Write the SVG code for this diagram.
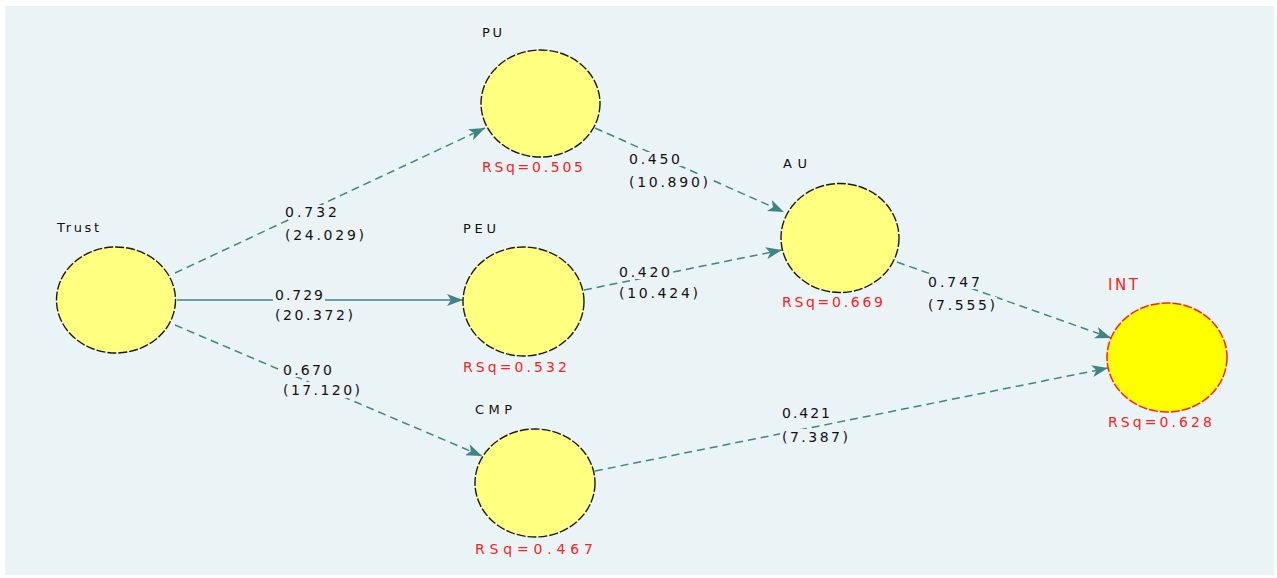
<svg xmlns="http://www.w3.org/2000/svg" width="1277" height="578" viewBox="0 0 1277 578">
  <style>
    .lv { fill: #FFFF80; stroke: #1a1a1a; stroke-width: 1.4; stroke-dasharray: 9 2; }
    .lv-end { fill: #FFFF00; stroke: #FF2020; stroke-width: 1.5; stroke-dasharray: 9 2; }
    .name { font-family: "DejaVu Sans", "Liberation Sans", sans-serif; font-size: 13px; fill: #111; }
    .name-end { font-family: "DejaVu Sans", "Liberation Sans", sans-serif; font-size: 15px; fill: #FF2020; }
    .rsq { font-family: "DejaVu Sans", "Liberation Sans", sans-serif; font-size: 14px; fill: #FF2020; }
    .coef { font-family: "DejaVu Sans", "Liberation Sans", sans-serif; font-size: 14px; fill: #111; }
    .path { stroke: #3F8585; stroke-width: 1.5; fill: none; marker-end: url(#head); }
    .dash { stroke-dasharray: 8 5; }
    .pad { fill: #EAF3F5; }
  </style>
  <defs>
    <marker id="head" viewBox="0 0 16 12" refX="16" refY="6" markerWidth="16" markerHeight="12" markerUnits="userSpaceOnUse" orient="auto">
      <path d="M0,0 L16,6 L0,12 L4,6 Z" fill="#3F8585"/>
    </marker>
  </defs>

  <!-- canvas -->
  <rect x="0" y="0" width="1277" height="578" fill="#FFFFFF"/>
  <rect x="5" y="6" width="1269" height="569" fill="#EAF3F5"/>

  <!-- path connectors with coefficient labels -->
  <g id="connectors">
    <line class="path dash" x1="175" y1="273" x2="485" y2="128"/>
    <line class="path" x1="177" y1="300" x2="463" y2="300"/>
    <line class="path dash" x1="175" y1="325" x2="482" y2="456"/>
    <line class="path dash" x1="595" y1="128" x2="784" y2="212"/>
    <line class="path dash" x1="584" y1="290" x2="782" y2="250"/>
    <line class="path dash" x1="897" y1="262" x2="1111" y2="338"/>
    <line class="path dash" x1="595" y1="471" x2="1108" y2="368"/>

    <rect class="pad" x="283" y="205" width="56" height="14"/>
    <rect class="pad" x="283" y="227" width="83" height="16"/>
    <text class="coef" x="285" y="217" textLength="52" lengthAdjust="spacing">0.732</text>
    <text class="coef" x="285" y="240" textLength="79" lengthAdjust="spacing">(24.029)</text>

    <rect class="pad" x="273" y="288" width="52" height="14"/>
    <text class="coef" x="275" y="300" textLength="48" lengthAdjust="spacing">0.729</text>
    <text class="coef" x="275" y="320" textLength="78" lengthAdjust="spacing">(20.372)</text>

    <rect class="pad" x="281" y="362" width="53" height="15"/>
    <rect class="pad" x="281" y="382" width="81" height="16"/>
    <text class="coef" x="283" y="375" textLength="49" lengthAdjust="spacing">0.670</text>
    <text class="coef" x="283" y="395" textLength="77" lengthAdjust="spacing">(17.120)</text>

    <rect class="pad" x="627" y="152" width="55" height="14"/>
    <rect class="pad" x="627" y="174" width="83" height="16"/>
    <text class="coef" x="629" y="164" textLength="51" lengthAdjust="spacing">0.450</text>
    <text class="coef" x="629" y="187" textLength="79" lengthAdjust="spacing">(10.890)</text>

    <rect class="pad" x="617" y="264" width="55" height="15"/>
    <rect class="pad" x="617" y="285" width="83" height="16"/>
    <text class="coef" x="619" y="277" textLength="51" lengthAdjust="spacing">0.420</text>
    <text class="coef" x="619" y="298" textLength="79" lengthAdjust="spacing">(10.424)</text>

    <rect class="pad" x="926" y="274" width="56" height="15"/>
    <rect class="pad" x="926" y="297" width="71" height="16"/>
    <text class="coef" x="928" y="287" textLength="52" lengthAdjust="spacing">0.747</text>
    <text class="coef" x="928" y="310" textLength="67" lengthAdjust="spacing">(7.555)</text>

    <rect class="pad" x="780" y="405" width="52" height="15"/>
    <rect class="pad" x="780" y="429" width="70" height="16"/>
    <text class="coef" x="782" y="418" textLength="48" lengthAdjust="spacing">0.421</text>
    <text class="coef" x="782" y="442" textLength="66" lengthAdjust="spacing">(7.387)</text>
  </g>

  <!-- latent variables -->
  <g id="trust">
    <ellipse class="lv" cx="116" cy="300" rx="59.5" ry="53"/>
    <text class="name" x="57" y="232" textLength="42" lengthAdjust="spacing">Trust</text>
  </g>
  <g id="pu">
    <ellipse class="lv" cx="540.5" cy="103.5" rx="59.5" ry="53.5"/>
    <text class="name" x="482" y="37" textLength="20" lengthAdjust="spacing">PU</text>
    <text class="rsq" x="482" y="172" textLength="101" lengthAdjust="spacing">RSq=0.505</text>
  </g>
  <g id="peu">
    <ellipse class="lv" cx="523.5" cy="301.5" rx="60.5" ry="54.5"/>
    <text class="name" x="463" y="233" textLength="33" lengthAdjust="spacing">PEU</text>
    <text class="rsq" x="463" y="372" textLength="104" lengthAdjust="spacing">RSq=0.532</text>
  </g>
  <g id="au">
    <ellipse class="lv" cx="840" cy="238" rx="59" ry="54.5"/>
    <text class="name" x="783" y="168" textLength="24" lengthAdjust="spacing">AU</text>
    <text class="rsq" x="782" y="307" textLength="101" lengthAdjust="spacing">RSq=0.669</text>
  </g>
  <g id="cmp">
    <ellipse class="lv" cx="535" cy="483" rx="60" ry="54"/>
    <text class="name" x="475" y="414" textLength="37" lengthAdjust="spacing">CMP</text>
    <text class="rsq" x="475" y="554" textLength="118" lengthAdjust="spacing">RSq=0.467</text>
  </g>
  <g id="int">
    <ellipse class="lv-end" cx="1167" cy="357.5" rx="60" ry="54.5"/>
    <text class="name-end" x="1108" y="290" textLength="30" lengthAdjust="spacing">INT</text>
    <text class="rsq" x="1108" y="427" textLength="104" lengthAdjust="spacing">RSq=0.628</text>
  </g>
</svg>
